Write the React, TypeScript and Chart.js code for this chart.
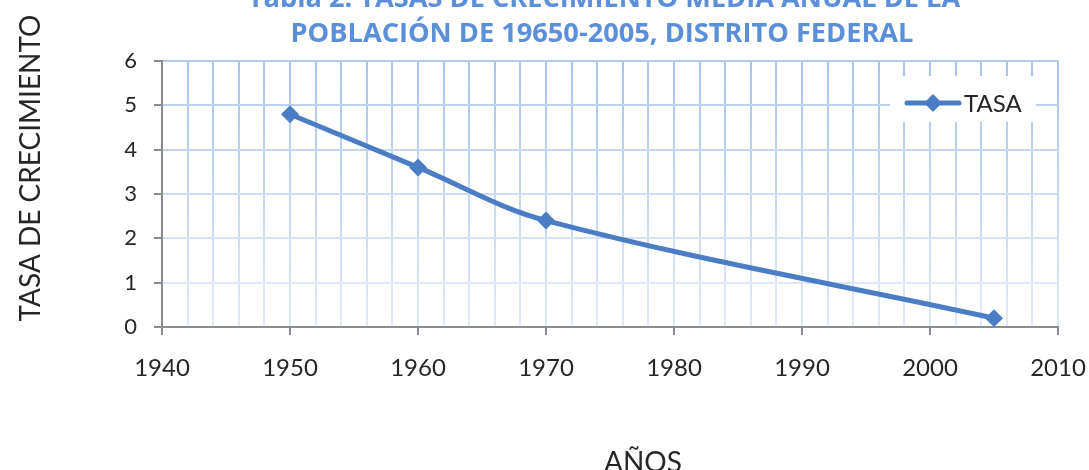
import React, { useEffect, useRef } from "react";
import { Chart, registerables } from "chart.js";

Chart.register(...registerables);

const titleLines = [
  "Tabla 2. TASAS DE CRECIMIENTO MEDIA ANUAL DE LA",
  "POBLACIÓN DE 19650-2005, DISTRITO FEDERAL",
];
const seriesName = "TASA";
const yAxisTitle = "TASA DE CRECIMIENTO";
const xAxisTitle = "AÑOS";
const years = [1950, 1960, 1970, 2005];
const tasa = [4.8, 3.6, 2.4, 0.2];
const xMin = 1940;
const xMax = 2010;
const yMin = 0;
const yMax = 6;

const LINE_COLOR = "#4a7dc4";
const TEXT_COLOR = "#262626";
const AXIS_COLOR = "#8c8c8c";
const TITLE_COLOR = "#5b8fd8";

function gridGradient(chart: any, top: string, bottom: string) {
  const area = chart.chartArea;
  if (!area) return top;
  const g = chart.ctx.createLinearGradient(0, area.top, 0, area.bottom);
  g.addColorStop(0, top);
  g.addColorStop(1, bottom);
  return g;
}

function fitFont(ctx: CanvasRenderingContext2D, text: string, weight: string, family: string, width: number) {
  ctx.font = `${weight} 20px ${family}`;
  const w = ctx.measureText(text).width;
  return (20 * width) / w;
}

const textPlugin = {
  id: "textPlugin",
  afterDatasetsDraw(chart: any) {
    const ctx: CanvasRenderingContext2D = chart.ctx;
    ctx.save();
    // legend
    ctx.fillStyle = "#ffffff";
    ctx.fillRect(890, 76, 146, 46);
    ctx.strokeStyle = LINE_COLOR;
    ctx.lineWidth = 5;
    ctx.lineCap = "round";
    ctx.beginPath();
    ctx.moveTo(907, 103);
    ctx.lineTo(959, 103);
    ctx.stroke();
    ctx.fillStyle = LINE_COLOR;
    ctx.beginPath();
    ctx.moveTo(933, 94);
    ctx.lineTo(942, 103);
    ctx.lineTo(933, 112);
    ctx.lineTo(924, 103);
    ctx.closePath();
    ctx.fill();
    ctx.fillStyle = TEXT_COLOR;
    ctx.font = "24px Lato";
    ctx.textAlign = "left";
    ctx.textBaseline = "middle";
    ctx.fillText(seriesName, 964, 104);

    // title
    ctx.fillStyle = TITLE_COLOR;
    ctx.textAlign = "center";
    ctx.textBaseline = "alphabetic";
    const s2 = fitFont(ctx, titleLines[1], "bold", "'Open Sans'", 623);
    ctx.font = `bold ${s2}px 'Open Sans'`;
    ctx.fillText(titleLines[0], 604, 7);
    ctx.fillText(titleLines[1], 602, 42);

    // y title
    ctx.fillStyle = TEXT_COLOR;
    const sy = fitFont(ctx, yAxisTitle, "normal", "Lato", 307);
    ctx.font = `${sy}px Lato`;
    ctx.save();
    ctx.translate(40, 168);
    ctx.rotate(-Math.PI / 2);
    ctx.textAlign = "center";
    ctx.fillText(yAxisTitle, 0, 0);
    ctx.restore();

    // x title
    ctx.textAlign = "center";
    ctx.fillText(xAxisTitle, 643, 472);
    ctx.restore();
  },
};

export default function App() {
  const ref = useRef<HTMLCanvasElement | null>(null);
  useEffect(() => {
    document.body.style.margin = "0";
    const canvas = ref.current;
    if (!canvas) return;
    const chart = new Chart(canvas, {
      type: "line",
      data: {
        datasets: [
          {
            label: seriesName,
            data: years.map((y, i) => ({ x: y, y: tasa[i] })),
            borderColor: LINE_COLOR,
            backgroundColor: LINE_COLOR,
            borderWidth: 5,
            tension: 0.35,
            pointStyle: "rectRot",
            pointRadius: 9,
            pointHoverRadius: 9,
            pointBorderWidth: 0,
            fill: false,
          },
        ],
      },
      options: {
        animation: false,
        responsive: false,
        events: [],
        layout: { padding: { left: 0, right: 31, top: 61, bottom: 0 } },
        plugins: {
          legend: { display: false },
          title: { display: false },
          tooltip: { enabled: false },
        },
        scales: {
          x: {
            type: "linear",
            min: xMin,
            max: xMax,
            afterFit: (s: any) => {
              s.height = 470 - 327;
              s.paddingLeft = 0;
              s.paddingRight = 0;
            },
            ticks: {
              stepSize: 2,
              autoSkip: false,
              maxRotation: 0,
              padding: 19,
              color: TEXT_COLOR,
              font: { family: "Lato", size: 24 },
              callback: (v: any) => (Number(v) % 10 === 0 ? String(v) : ""),
            },
            grid: {
              color: (c: any) => gridGradient(c.chart, "#a9c3eb", "#e2eaf8"),
              lineWidth: 2,
              tickLength: 8,
              tickWidth: 2,
              tickColor: (c: any) =>
                c.tick && Number(c.tick.value) % 10 === 0 ? AXIS_COLOR : "rgba(0,0,0,0)",
            },
            border: { color: AXIS_COLOR, width: 2 },
          },
          y: {
            min: yMin,
            max: yMax,
            afterFit: (s: any) => {
              s.width = 162;
              s.paddingTop = 0;
              s.paddingBottom = 0;
            },
            ticks: {
              stepSize: 1,
              padding: 17,
              color: TEXT_COLOR,
              font: { family: "Lato", size: 22 },
            },
            grid: {
              color: (c: any) => gridGradient(c.chart, "#b3caee", "#e6edf9"),
              lineWidth: 2,
              tickLength: 8,
              tickWidth: 2,
              tickColor: AXIS_COLOR,
            },
            border: { color: AXIS_COLOR, width: 2 },
          },
        },
      },
      plugins: [textPlugin],
    } as any);
    return () => chart.destroy();
  }, []);
  return (
    <div style={{ position: "absolute", left: 0, top: 0, width: 1089, height: 470 }}>
      <canvas ref={ref} width={1089} height={470} style={{ width: 1089, height: 470, display: "block" }} />
    </div>
  );
}
